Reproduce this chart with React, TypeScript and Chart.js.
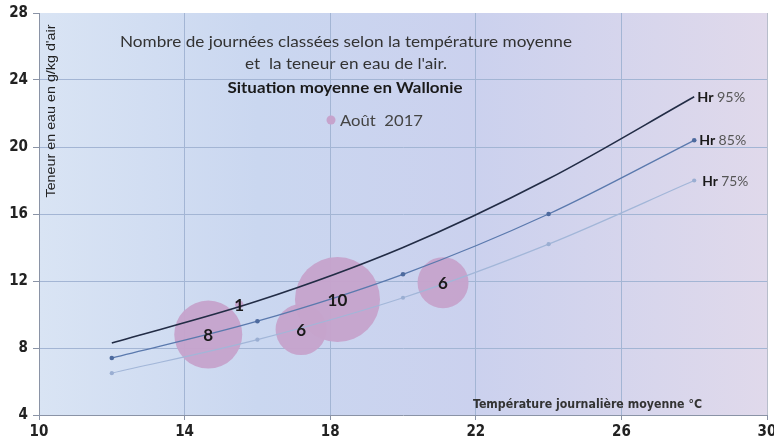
import { useEffect, useRef } from 'react';
import { Chart, registerables } from 'chart.js';

Chart.register(...registerables);

// ---- data ----
const xMin = 10;
const xMax = 30;
const xStep = 4;
const yMin = 4;
const yMax = 28;
const yStep = 4;

const curveTemps = [12, 16, 20, 24, 28];
const hr95 = [8.3, 10.8, 14.0, 18.1, 23.0];
const hr85 = [7.4, 9.6, 12.4, 16.0, 20.4];
const hr75 = [6.5, 8.5, 11.0, 14.2, 18.0];
const curveNames = ['95%', '85%', '75%'];

const bubbleTemps = [14.65, 15.5, 17.2, 18.2, 21.1];
const bubbleWater = [8.8, 10.6, 9.1, 10.9, 11.9];
const bubbleDays = [8, 1, 6, 10, 6];

const titleLines = [
  'Nombre de journées classées selon la température moyenne',
  "et  la teneur en eau de l'air.",
  'Situation moyenne en Wallonie',
];
const legendLabel = 'Août  2017';
const yTitle = "Teneur en eau en g/kg d'air";
const xTitle = 'Température journalière moyenne °C';

const W = 774;
const H = 442;
const SANS = "Lato, 'Open Sans', 'Liberation Sans', sans-serif";
const NARROW = "'Liberation Sans Narrow', 'DejaVu Sans Condensed', 'Liberation Sans', sans-serif";
const BUBBLE = 'rgba(198,163,204,0.96)';

function fitText(
  ctx: CanvasRenderingContext2D,
  text: string,
  x: number,
  y: number,
  width: number,
  font: string,
  color: string,
  align: CanvasTextAlign = 'center',
  rotate = 0
) {
  ctx.save();
  ctx.font = font;
  ctx.fillStyle = color;
  ctx.textBaseline = 'middle';
  ctx.textAlign = align;
  const w = ctx.measureText(text).width;
  const s = width / w;
  ctx.translate(x, y);
  if (rotate) ctx.rotate(rotate);
  ctx.scale(s, 1);
  ctx.fillText(text, 0, 0);
  ctx.restore();
}

export default function App() {
  const ref = useRef<HTMLCanvasElement>(null);

  useEffect(() => {
    const canvas = ref.current!;

    const bgPlugin = {
      id: 'bgPlugin',
      beforeDraw(chart: any) {
        const { ctx, chartArea: a } = chart;
        const g = ctx.createLinearGradient(a.left, 0, a.right, 0);
        g.addColorStop(0, '#d9e4f4');
        g.addColorStop(0.3, '#cad7f0');
        g.addColorStop(0.6, '#cbd1ee');
        g.addColorStop(1, '#e0d9eb');
        ctx.save();
        ctx.fillStyle = g;
        ctx.fillRect(a.left, a.top, a.right - a.left, a.bottom - a.top);
        ctx.restore();
      },
    };

    const textPlugin = {
      id: 'textPlugin',
      afterDatasetsDraw(chart: any) {
        const { ctx } = chart;
        const xs = chart.scales.x;
        const ys = chart.scales.y;

        // titles
        fitText(ctx, titleLines[0], 346, 42, 452, `15px ${SANS}`, '#333');
        fitText(ctx, titleLines[1], 346, 64, 202, `15px ${SANS}`, '#333');
        fitText(ctx, titleLines[2], 345, 88, 235, `bold 15px ${SANS}`, '#1a1a1a');

        // legend
        ctx.save();
        ctx.fillStyle = '#c6a3cc';
        ctx.beginPath();
        ctx.arc(331, 120, 4.5, 0, Math.PI * 2);
        ctx.fill();
        ctx.restore();
        fitText(ctx, legendLabel, 340, 121, 83, `15px ${SANS}`, '#444', 'left');

        // axis titles inside plot
        fitText(ctx, yTitle, 52, 111, 173, `12px 'Liberation Sans', Arial, sans-serif`, '#222', 'center', -Math.PI / 2);
        fitText(ctx, xTitle, 473, 405, 229, `bold 13px ${NARROW}`, '#333', 'left');

        // bubble labels
        ctx.save();
        ctx.font = `bold 17px ${SANS}`;
        ctx.fillStyle = '#1a1a1a';
        ctx.textAlign = 'center';
        ctx.textBaseline = 'middle';
        bubbleTemps.forEach((t, i) => {
          ctx.fillText(String(bubbleDays[i]), xs.getPixelForValue(t), ys.getPixelForValue(bubbleWater[i]) + 1);
        });
        ctx.restore();

        // curve labels
        const series = [hr95, hr85, hr75];
        const offs = [3, 5, 8];
        const widths = [48, 47, 46];
        series.forEach((s, i) => {
          const px = xs.getPixelForValue(curveTemps[curveTemps.length - 1]) + offs[i];
          const py = ys.getPixelForValue(s[s.length - 1]) + 1;
          ctx.save();
          ctx.textBaseline = 'middle';
          ctx.textAlign = 'left';
          const bold = `bold 13px ${SANS}`;
          const norm = `13px ${SANS}`;
          ctx.font = bold;
          const w1 = ctx.measureText('Hr ').width;
          ctx.font = norm;
          const w2 = ctx.measureText(curveNames[i]).width;
          const sc = widths[i] / (w1 + w2);
          ctx.translate(px, py);
          ctx.scale(sc, 1);
          ctx.font = bold;
          ctx.fillStyle = '#1a1a1a';
          ctx.fillText('Hr ', 0, 0);
          ctx.font = norm;
          ctx.fillStyle = '#555';
          ctx.fillText(curveNames[i], w1, 0);
          ctx.restore();
        });
      },
    };

    const gridColor = '#a3b5d4';
    const axisColor = '#8a93a6';

    const chart = new Chart(canvas, {
      type: 'bubble',
      data: {
        datasets: [
          {
            type: 'line',
            label: 'Hr 95%',
            data: curveTemps.map((t, i) => ({ x: t, y: hr95[i] })),
            borderColor: '#222c45',
            borderWidth: 1.6,
            pointRadius: 0,
            cubicInterpolationMode: 'monotone',
            fill: false,
            order: 0,
          } as any,
          {
            type: 'line',
            label: 'Hr 85%',
            data: curveTemps.map((t, i) => ({ x: t, y: hr85[i] })),
            borderColor: '#5a79ad',
            backgroundColor: '#4d6a9e',
            borderWidth: 1.3,
            pointRadius: 2.3,
            pointBorderWidth: 0,
            cubicInterpolationMode: 'monotone',
            fill: false,
            order: 0,
          } as any,
          {
            type: 'line',
            label: 'Hr 75%',
            data: curveTemps.map((t, i) => ({ x: t, y: hr75[i] })),
            borderColor: '#a2b6d8',
            backgroundColor: '#9aaed2',
            borderWidth: 1.2,
            pointRadius: 2.1,
            pointBorderWidth: 0,
            cubicInterpolationMode: 'monotone',
            fill: false,
            order: 0,
          } as any,
          {
            type: 'bubble',
            label: legendLabel,
            data: bubbleTemps.map((t, i) => ({ x: t, y: bubbleWater[i], r: bubbleDays[i] * 4.25 })),
            backgroundColor: BUBBLE,
            borderWidth: 0,
            order: 1,
          } as any,
        ],
      },
      options: {
        responsive: false,
        animation: false,
        devicePixelRatio: 1,
        events: [],
        layout: { autoPadding: false, padding: { top: 13, right: 7, left: 0, bottom: 0 } },
        plugins: {
          legend: { display: false },
          tooltip: { enabled: false },
          title: { display: false },
        },
        scales: {
          x: {
            type: 'linear',
            min: xMin,
            max: xMax,
            ticks: {
              stepSize: xStep,
              color: '#222',
              padding: 3,
              font: { family: NARROW, size: 15, weight: 'bold' },
            },
            grid: {
              color: (c: any) =>
                c.tick && c.tick.value === xMin ? 'rgba(0,0,0,0)' : c.tick && c.tick.value === xMax ? '#b7bdcb' : gridColor,
              tickLength: 5,
              tickColor: axisColor,
            },
            border: { color: axisColor, width: 1 },
            afterFit: (s: any) => {
              s.height = 27;
              s.paddingLeft = 0;
              s.paddingRight = 0;
            },
          },
          y: {
            type: 'linear',
            min: yMin,
            max: yMax,
            ticks: {
              stepSize: yStep,
              color: '#222',
              padding: 5,
              font: { family: NARROW, size: 15, weight: 'bold' },
            },
            grid: {
              color: (c: any) =>
                c.tick && (c.tick.value === yMax || c.tick.value === yMin) ? 'rgba(0,0,0,0)' : gridColor,
              tickLength: 6,
              tickColor: axisColor,
            },
            border: { color: axisColor, width: 1 },
            afterFit: (s: any) => {
              s.width = 39;
              s.paddingTop = 0;
              s.paddingBottom = 0;
            },
          },
        },
      } as any,
      plugins: [bgPlugin, textPlugin],
    });

    return () => chart.destroy();
  }, []);

  return (
    <div style={{ position: 'absolute', left: 0, top: 0, width: W, height: H, background: '#fff' }}>
      <canvas ref={ref} width={W} height={H} style={{ display: 'block', width: W, height: H }} />
    </div>
  );
}
